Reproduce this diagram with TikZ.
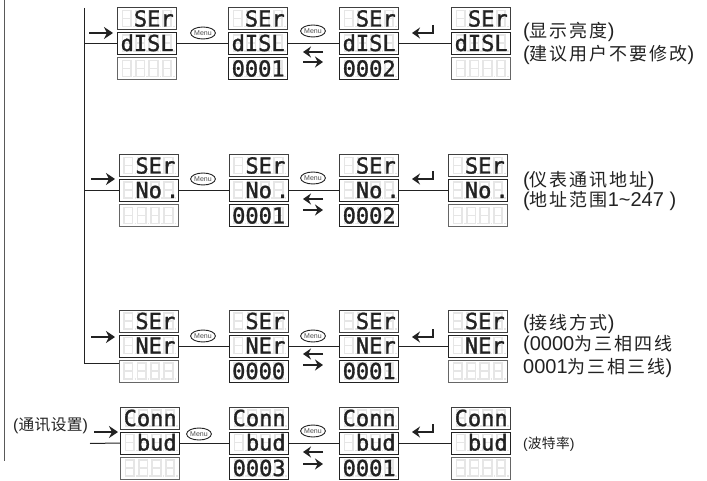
\documentclass[tikz,border=0pt]{standalone}
\usepackage{fontspec}
\setmainfont{Liberation Sans}
\newfontfamily\cjkf[LetterSpace=11,Scale=0.9]{Noto Sans CJK SC}
\newfontfamily\cjkg[LetterSpace=3,Scale=0.98]{Noto Sans CJK SC}
\newfontfamily\segf[FakeBold=1.5]{DejaVu Sans Mono}
\usetikzlibrary{shapes.geometric,arrows.meta}
\definecolor{ghost}{HTML}{E6E6E6}
\definecolor{ink}{HTML}{222222}
\tikzset{
  x=1pt,y=-1pt,
  dispbox/.style={draw=#1,line width=1pt,minimum width=59pt,minimum height=22pt,inner sep=0pt,anchor=north west},
  dispbox/.default=ink,
  segtext/.style={inner sep=0pt,anchor=base west,text=ink,font=\segf\fontsize{22}{22}\selectfont},
  ghostseg/.style={draw=ghost,line width=1.8pt},
  menuoval/.style={ellipse,draw=ink,line width=0.9pt,minimum width=23pt,minimum height=12pt,inner sep=0pt,text=black!70,font=\fontsize{7}{7}\selectfont},
  wire/.style={draw=ink,line width=1pt},
  flow/.style={draw=ink,line width=1.9pt,-{Stealth[length=9pt,width=12pt]}},
  thinflow/.style={draw=ink,line width=1.7pt,-{Stealth[length=8pt,width=11pt]}},
  lbl/.style={anchor=west,inner sep=0pt,text=ink,font=\fontsize{20}{22}\selectfont},
}
% one display box: name, x, y, text, border colour
\newcommand\dispbox[5]{%
  \node[dispbox=#5] (#1) at (#2,#3) {};
  \foreach \k in {0,1,2,3}{
    \pgfmathsetmacro\gx{#2+5.5+13.4*\k}
    \pgfmathsetmacro\gy{#3+3}
    \draw[ghostseg] (\gx,\gy) rectangle ++(8.5,16) (\gx,\gy+8) -- ++(8.5,0) (\gx+10.5,\gy+16) -- ++(1.5,0);
  }
  \if\relax\detokenize{#4}\relax\else
    \node[segtext] (#1t) at (#2+3.5,#3+19) {#4};
  \fi
}
% a column of three displays
\newcommand\dispcol[6]{%
  \dispbox{#1a}{#2}{#3}{#4}{black!75}
  \dispbox{#1b}{#2}{#3+24.5}{#5}{ink}
  \if\relax\detokenize{#6}\relax
    \dispbox{#1c}{#2}{#3+50}{}{black!60}
  \else
    \dispbox{#1c}{#2}{#3+50}{#6}{ink}
  \fi
}
% an arrow that floats free: name, x1, x2, y, style
\newcommand\floatarrow[5]{%
  \coordinate (#1s) at (#2,#4);
  \coordinate (#1e) at (#3,#4);
  \draw[#5] (#1s) -- (#1e);
}
% enter-key arrow: name, y of the tip
\newcommand\enterarrow[2]{%
  \coordinate (#1s) at (433,#2-8);
  \coordinate (#1e) at (412,#2);
  \draw[thinflow] (#1s) |- (#1e);
}
\begin{document}
\begin{tikzpicture}
\useasboundingbox (0,0) rectangle (707,481);
\fill[white] (0,0) rectangle (707,481);

% row 1
\dispcol{ra1}{117}{7.5}{~SEr}{dISL}{}
\dispcol{ra2}{228}{7.5}{~SEr}{dISL}{0001}
\dispcol{ra3}{339}{7.5}{~SEr}{dISL}{0002}
\dispcol{ra4}{451}{7.5}{~SEr}{dISL}{}
% row 2
\dispcol{rb1}{118.5}{154.5}{~SEr}{~No\hspace{4pt}.}{}
\dispcol{rb2}{228.5}{154.5}{~SEr}{~No\hspace{4pt}.}{0001}
\dispcol{rb3}{339}{154.5}{~SEr}{~No\hspace{4pt}.}{0002}
\dispcol{rb4}{448}{154.5}{~SEr}{~No\hspace{4pt}.}{}
% row 3
\dispcol{rc1}{118.5}{310}{~SEr}{~NEr}{}
\dispcol{rc2}{228.5}{310}{~SEr}{~NEr}{0000}
\dispcol{rc3}{339}{310}{~SEr}{~NEr}{0001}
\dispcol{rc4}{448}{310}{~SEr}{~NEr}{}
% row 4
\dispcol{rd1}{120}{407}{Conn}{~bud}{}
\dispcol{rd2}{229}{407}{Conn}{~bud}{0003}
\dispcol{rd3}{339}{407}{Conn}{~bud}{0001}
\dispcol{rd4}{451}{407}{Conn}{~bud}{}

% connectors between displays
\foreach \r in {ra,rb,rc,rd}{
  \draw[wire] (\r1b.east) -- (\r2b.west);
  \draw[wire] (\r2b.east) -- (\r3b.west);
  \draw[wire] (\r3b.east) -- (\r4b.west);
}

% trunks
\coordinate (trunktop) at (84.5,8);
\coordinate (trunkend) at (84.5,363);
\coordinate (outertop) at (4,0);
\coordinate (outerend) at (4,461);
\coordinate (rdstart) at (90,443.5);
\draw[wire] (trunktop) -- (trunkend) -- (trunkend -| rc1c.west);
\draw[wire] (trunktop |- ra1b.west) -- (ra1b.west);
\draw[wire] (trunktop |- rb1b.west) -- (rb1b.west);
\draw[wire] (rdstart) -- (rd1b.west);
\draw[draw=black!65,line width=1pt] (outertop) -- (outerend);

% entry arrows
\floatarrow{ea}{89}{113}{33}{flow}
\floatarrow{eb}{91}{115}{179}{flow}
\floatarrow{ec}{91}{115}{337}{flow}
\floatarrow{ed}{94}{118}{432}{flow}

% menu keys
\node[menuoval] (ma1) at (203,33) {Menu};
\node[menuoval] (ma2) at (313,31) {Menu};
\node[menuoval] (mb1) at (203,179) {Menu};
\node[menuoval] (mb2) at (313,178) {Menu};
\node[menuoval] (mc1) at (203,336) {Menu};
\node[menuoval] (mc2) at (313,336) {Menu};
\node[menuoval] (md1) at (199,434) {Menu};
\node[menuoval] (md2) at (313,431) {Menu};

% back and forth arrows
\floatarrow{la}{323}{303}{52}{thinflow}
\floatarrow{lra}{303}{323}{62}{thinflow}
\floatarrow{lb}{323}{303}{199}{thinflow}
\floatarrow{lrb}{303}{323}{210}{thinflow}
\floatarrow{lc}{323}{303}{354}{thinflow}
\floatarrow{lrc}{303}{323}{365}{thinflow}
\floatarrow{ld}{323}{303}{452}{thinflow}
\floatarrow{lrd}{303}{323}{464}{thinflow}

% enter arrows
\enterarrow{ena}{33}
\enterarrow{enb}{179}
\enterarrow{enc}{337}
\enterarrow{end}{432}

% labels
\node[lbl] (t1) at (523,32) {({\cjkf 显示亮度})};
\node[lbl] (t2) at (523,55) {({\cjkf 建议用户不要修改})};
\node[lbl] (t3) at (523,181) {({\cjkf 仪表通讯地址})};
\node[lbl] (t4) at (523,201) {({\cjkf 地址范围}1\textasciitilde 247 )};
\node[lbl] (t5) at (523,324) {({\cjkf 接线方式})};
\node[lbl] (t6) at (523,345) {(0000{\cjkf 为三相四线}};
\node[lbl] (t7) at (523,368) {0001{\cjkf 为三相三线})};
\node[lbl,font=\fontsize{16}{18}\selectfont] (t8) at (13,426) {({\cjkg 通讯设置})};
\node[lbl,font=\fontsize{14}{16}\selectfont] (t9) at (523,444) {({\cjkg 波特率})};
\end{tikzpicture}
\end{document}
